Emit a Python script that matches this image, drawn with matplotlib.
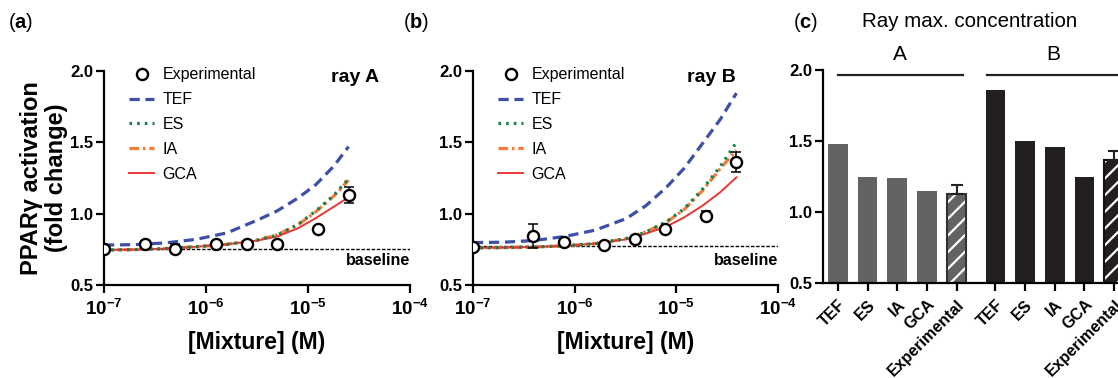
import numpy as np
import matplotlib
matplotlib.use("Agg")
import matplotlib.pyplot as plt
from matplotlib.ticker import FixedLocator, FixedFormatter

plt.rcParams['font.family'] = ['Liberation Sans', 'DejaVu Sans']
plt.rcParams['mathtext.fontset'] = 'custom'
plt.rcParams['mathtext.rm'] = 'Liberation Sans'
plt.rcParams['mathtext.bf'] = 'Liberation Sans:bold'
plt.rcParams['mathtext.it'] = 'Liberation Sans:italic'
plt.rcParams['hatch.linewidth'] = 1.6

# ---- ray A (panel a) ----
expA_x = [1e-7, 2.5e-7, 5e-7, 1.25e-6, 2.5e-6, 5e-6, 1.25e-5, 2.5e-5]
expA_y = [0.75, 0.785, 0.755, 0.79, 0.788, 0.788, 0.892, 1.13]
expA_err = [0.02, 0.025, 0.03, 0.015, 0.01, 0.01, 0.01, 0.057]

concA = [1e-7, 2e-7, 4e-7, 8e-7, 1.6e-6, 3.2e-6, 5e-6, 8e-6, 1.2e-5, 1.8e-5, 2.5e-5]
tefA = [0.78, 0.783, 0.795, 0.82, 0.865, 0.955, 1.02, 1.11, 1.205, 1.335, 1.47]
esA = [0.745, 0.748, 0.755, 0.768, 0.785, 0.815, 0.85, 0.925, 1.02, 1.13, 1.245]
iaA = [0.745, 0.748, 0.755, 0.768, 0.785, 0.815, 0.852, 0.922, 1.015, 1.125, 1.235]
gcaA = [0.745, 0.748, 0.755, 0.768, 0.785, 0.812, 0.84, 0.898, 0.97, 1.05, 1.115]
baseA = 0.755

# ---- ray B (panel b) ----
expB_x = [1e-7, 3.9e-7, 7.8e-7, 1.95e-6, 3.9e-6, 7.8e-6, 1.95e-5, 3.9e-5]
expB_y = [0.768, 0.843, 0.80, 0.78, 0.82, 0.892, 0.986, 1.364]
expB_err = [0.01, 0.085, 0.01, 0.01, 0.01, 0.015, 0.03, 0.07]

concB = [1e-7, 2e-7, 4e-7, 8e-7, 1.6e-6, 3.2e-6, 5e-6, 8e-6, 1.2e-5, 1.8e-5, 2.7e-5, 3.9e-5]
tefB = [0.797, 0.80, 0.812, 0.84, 0.885, 0.965, 1.055, 1.185, 1.32, 1.49, 1.66, 1.845]
esB = [0.76, 0.762, 0.766, 0.775, 0.79, 0.825, 0.87, 0.944, 1.035, 1.17, 1.33, 1.50]
iaB = [0.76, 0.762, 0.766, 0.775, 0.79, 0.825, 0.872, 0.94, 1.03, 1.16, 1.315, 1.445]
gcaB = [0.76, 0.762, 0.766, 0.775, 0.79, 0.82, 0.86, 0.909, 0.975, 1.055, 1.15, 1.255]
baseB = 0.775

# ---- panel c ----
bar_labels = ['TEF', 'ES', 'IA', 'GCA', 'Experimental']
barsA = [1.48, 1.25, 1.24, 1.145, 1.13]
barsB = [1.86, 1.50, 1.46, 1.25, 1.365]
errA = 0.058
errB = 0.065

c_tef = '#3d4fa6'
c_es = '#17804a'
c_ia = '#f57a35'
c_gca = '#ee3535'

fig = plt.figure(figsize=(11.18, 3.78), dpi=100)

xticks = [1e-7, 1e-6, 1e-5, 1e-4]
xticklabels = [r'$\mathbf{10^{-7}}$', r'$\mathbf{10^{-6}}$', r'$\mathbf{10^{-5}}$', r'$\mathbf{10^{-4}}$']


def ray_panel(ax, conc, tef, es, ia, gca, ex, ey, eerr, base, raylabel, rayx):
    ax.plot(ex, ey, 'o', ms=8, mfc='white', mec='black', mew=1.7, zorder=6, label='Experimental')
    ax.plot(conc, tef, color=c_tef, lw=2.3, dashes=(3.2, 1.8), label='TEF', zorder=3)
    ax.plot(conc, es, color=c_es, lw=2.3, dashes=(0.8, 1.6), label='ES', zorder=4)
    ax.plot(conc, ia, color=c_ia, lw=2.3, dashes=(3, 1.2, 0.8, 1.2), label='IA', zorder=3)
    ax.plot(conc, gca, color=c_gca, lw=1.4, label='GCA', zorder=3)
    ax.errorbar(ex, ey, yerr=eerr, fmt='none', ecolor='black', elinewidth=1.1, capsize=3.5, capthick=1.1, zorder=5)
    ax.axhline(base, color='black', lw=1, dashes=(2.5, 1.2), zorder=2)

    ax.set_xscale('log')
    ax.set_xlim(1e-7, 1e-4)
    ax.set_ylim(0.5, 2.0)
    ax.xaxis.set_major_locator(FixedLocator(xticks))
    ax.xaxis.set_major_formatter(FixedFormatter(xticklabels))
    ax.xaxis.set_minor_locator(FixedLocator([]))
    ax.set_yticks([0.5, 1.0, 1.5, 2.0])
    ax.set_yticklabels(['0.5', '1.0', '1.5', '2.0'], fontweight='bold')
    for s in ['top', 'right']:
        ax.spines[s].set_visible(False)
    for s in ['left', 'bottom']:
        ax.spines[s].set_linewidth(1.6)
    ax.tick_params(width=1.6, length=6, labelsize=12, pad=2)
    ax.tick_params(axis='x', pad=4, labelsize=13.5)
    ax.set_xlabel('[Mixture] (M)', fontsize=16.5, fontweight='bold', labelpad=9)

    ax.text(rayx, 1.955, raylabel, fontsize=14, fontweight='bold', ha='right', va='center')
    ax.text(1e-4, 0.67, 'baseline', fontsize=11.5, fontweight='bold', ha='right', va='center')

    leg = ax.legend(loc='upper left', bbox_to_anchor=(0.055, 1.055), frameon=False, fontsize=11.5,
                    handlelength=1.6, labelspacing=0.62, borderpad=0, handletextpad=0.5)
    return leg


axA = fig.add_axes([104 / 1118, 93 / 378, 306 / 1118, 214 / 378])
ray_panel(axA, concA, tefA, esA, iaA, gcaA, expA_x, expA_y, expA_err, baseA, 'ray A', 5.0e-5)
axA.set_ylabel('PPARγ activation\n(fold change)', fontsize=17, fontweight='bold', labelpad=1.5, linespacing=1.1)

axB = fig.add_axes([473 / 1118, 93 / 378, 305 / 1118, 214 / 378])
ray_panel(axB, concB, tefB, esB, iaB, gcaB, expB_x, expB_y, expB_err, baseB, 'ray B', 3.8e-5)

# ---- bar panel ----
axC = fig.add_axes([823 / 1118, 95 / 378, 306 / 1118, 213 / 378])
posA = np.arange(5)
posB = np.arange(5) + 5.3
w = 0.66
colA = '#636363'
colB = '#231f20'
axC.bar(posA[:4], barsA[:4], width=w, bottom=0, color=colA)
axC.bar(posB[:4], barsB[:4], width=w, bottom=0, color=colB)
# hatched experimental bars
axC.bar(posA[4], barsA[4], width=w, color=colA, edgecolor='white', hatch='//', lw=0)
axC.bar(posA[4], barsA[4], width=w, fill=False, edgecolor='#333333', lw=1.5)
axC.bar(posB[4], barsB[4], width=w, color=colB, edgecolor='white', hatch='//', lw=0)
axC.bar(posB[4], barsB[4], width=w, fill=False, edgecolor='#111111', lw=1.5)
axC.errorbar([posA[4], posB[4]], [barsA[4], barsB[4]], yerr=[[0, 0], [errA, errB]], fmt='none',
             ecolor='#222222', elinewidth=1.5, capsize=4.5, capthick=1.5)

axC.set_xlim(-0.5, 9.8)
axC.set_ylim(0.5, 2.0)
axC.set_yticks([0.5, 1.0, 1.5, 2.0])
axC.set_yticklabels(['0.5', '1.0', '1.5', '2.0'], fontweight='bold')
axC.set_xticks(list(posA) + list(posB))
axC.set_xticklabels(bar_labels + bar_labels, rotation=45, ha='right', rotation_mode='anchor',
                    fontweight='bold')
for s in ['top', 'right']:
    axC.spines[s].set_visible(False)
for s in ['left', 'bottom']:
    axC.spines[s].set_linewidth(1.6)
axC.tick_params(width=1.6, length=6, labelsize=12, pad=2)
axC.tick_params(axis='x', pad=4, labelsize=11.5)

axC.plot([0.0, 4.2], [1.965, 1.965], color='#222222', lw=1.6, clip_on=False)
axC.plot([5.02, 9.8], [1.965, 1.965], color='#222222', lw=1.6, clip_on=False)
axC.text(2.1, 2.11, 'A', fontsize=15, ha='center', va='center', clip_on=False)
axC.text(7.25, 2.11, 'B', fontsize=15, ha='center', va='center', clip_on=False)
axC.text(4.45, 2.34, 'Ray max. concentration', fontsize=14.8, ha='center', va='center', clip_on=False)

# panel letters
for xp, letter in [(8, 'a'), (403, 'b'), (793, 'c')]:
    fig.text(xp / 1118, 1 - 22 / 378, r'($\mathbf{%s}$)' % letter, fontsize=14.5, va='center', ha='left')

fig.savefig('out.png', dpi=100)
